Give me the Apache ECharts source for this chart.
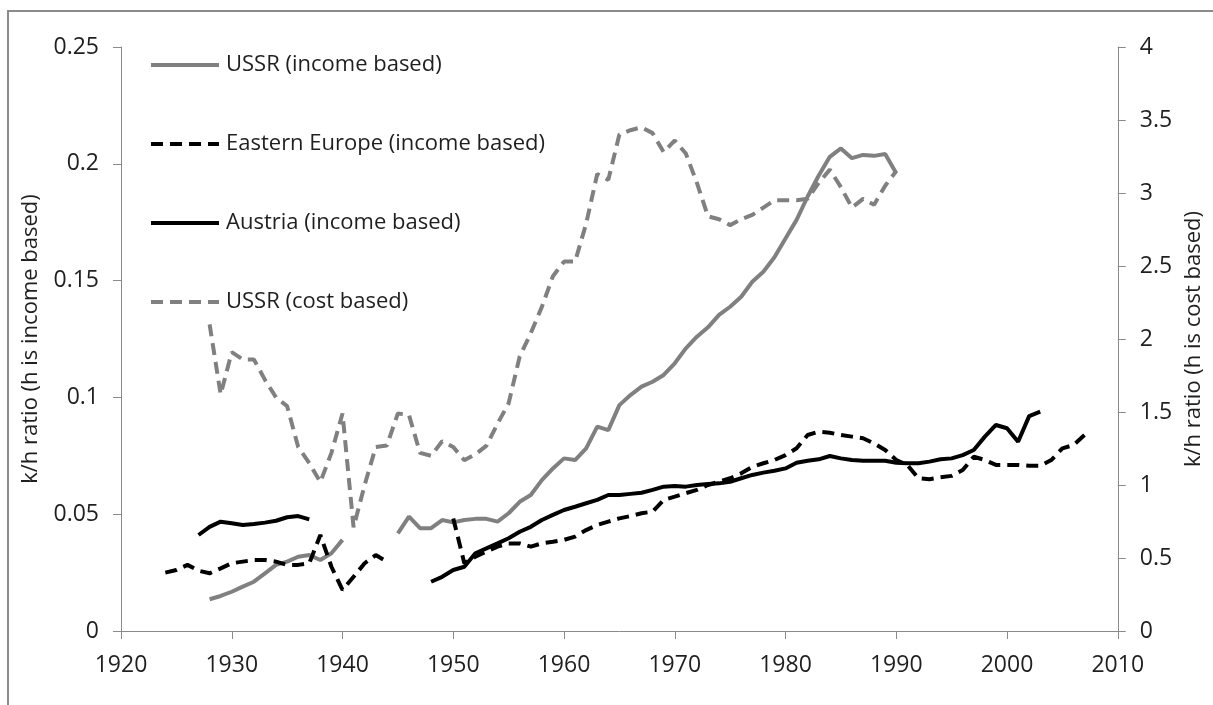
<!DOCTYPE html>
<html>
<head>
<meta charset="utf-8">
<script src="https://cdn.jsdelivr.net/npm/echarts@6/dist/echarts.min.js"></script>
<style>
  html, body { margin: 0; padding: 0; background: #fff; }
  #chart { width: 1213px; height: 705px; }
</style>
</head>
<body>
<div id="chart"></div>
<script>
// k/h ratios
var ussrIncomeYears = [];
for (var y = 1928; y <= 1990; y++) ussrIncomeYears.push(y);
var ussrIncome = [
    0.0136, 0.015, 0.0168, 0.019, 0.0211, 0.0247, 0.0283, 0.0297, 0.0318, 0.0325,
    0.0304, 0.0333, 0.039, null, null, null, null, 0.0418, 0.049, 0.044,
    0.044, 0.0475, 0.0465, 0.0475, 0.048, 0.048, 0.0468, 0.0504, 0.0553, 0.0582,
    0.0646, 0.0696, 0.0739, 0.0732, 0.0782, 0.0875, 0.086, 0.0967, 0.101, 0.1046,
    0.1067, 0.1096, 0.1146, 0.121, 0.126, 0.130, 0.1353, 0.1388, 0.1431, 0.1495,
    0.1538, 0.160, 0.168, 0.176, 0.186, 0.195, 0.203, 0.2066, 0.2024, 0.2038,
    0.2034, 0.2042, 0.196
];

var eastEuropeYears = [];
for (var y = 1924; y <= 2007; y++) eastEuropeYears.push(y);
var eastEurope = [
    0.025, 0.0261, 0.0283, 0.0258, 0.0247, 0.0268, 0.029, 0.0297, 0.0304, 0.0304,
    0.0297, 0.0283, 0.0283, 0.029, 0.0411, 0.0275, 0.0176, 0.0232, 0.029, 0.0325,
    0.0297, null, null, null, null, null, 0.0482, 0.029, 0.0318, 0.034,
    0.0361, 0.0375, 0.0375, 0.0361, 0.0375, 0.0382, 0.039, 0.0404, 0.0432, 0.0454,
    0.0468, 0.0482, 0.0492, 0.0504, 0.0511, 0.0561, 0.0575, 0.059, 0.0604, 0.0625,
    0.0639, 0.0654, 0.0675, 0.0703, 0.0718, 0.0732, 0.0753, 0.0782, 0.0839, 0.0853,
    0.0849, 0.0839, 0.0832, 0.0825, 0.0803, 0.0775, 0.0732, 0.0711, 0.0654, 0.065,
    0.0658, 0.0664, 0.0689, 0.0746, 0.0732, 0.0711, 0.0711, 0.0711, 0.0707, 0.0707,
    0.0732, 0.0782, 0.0796, 0.0839
];

var austriaYears = [];
for (var y = 1927; y <= 2003; y++) austriaYears.push(y);
var austria = [
    0.0411, 0.0446, 0.0468, 0.0461, 0.0454, 0.0458, 0.0464, 0.0472, 0.0487, 0.0492,
    0.0478, null, null, null, null, null, null, null, null, null,
    null, 0.0211, 0.0232, 0.0261, 0.0275, 0.0333, 0.0354, 0.0375, 0.0397, 0.0425,
    0.0446, 0.0475, 0.0497, 0.0518, 0.0532, 0.0547, 0.0561, 0.0582, 0.0582, 0.0587,
    0.0592, 0.0604, 0.0618, 0.0621, 0.0618, 0.0625, 0.0629, 0.0632, 0.0639, 0.0654,
    0.0668, 0.0678, 0.0686, 0.0696, 0.072, 0.0729, 0.0735, 0.0749, 0.0739, 0.0732,
    0.0729, 0.0729, 0.0729, 0.072, 0.0718, 0.0718, 0.0725, 0.0735, 0.0739, 0.0753,
    0.0775, 0.0832, 0.0882, 0.0868, 0.081, 0.092, 0.0939
];

var ussrCostYears = ussrIncomeYears;
var ussrCost = [
    2.1, 1.62, 1.91, 1.86, 1.86, 1.72, 1.60, 1.54, 1.26, 1.15,
    1.02, 1.22, 1.49, 0.71, 1.0, 1.26, 1.27, 1.49, 1.48, 1.22,
    1.20, 1.30, 1.26, 1.17, 1.21, 1.27, 1.42, 1.56, 1.88, 2.04,
    2.22, 2.43, 2.53, 2.53, 2.79, 3.13, 3.09, 3.40, 3.43, 3.45,
    3.41, 3.28, 3.36, 3.27, 3.07, 2.84, 2.82, 2.78, 2.82, 2.85,
    2.90, 2.95, 2.95, 2.95, 2.96, 3.07, 3.16, 3.04, 2.90, 2.96,
    2.92, 3.05, 3.15
];

var xTicks = { min: 1920, max: 2010, interval: 10 };

function pairs(years, vals) {
    return years.map(function (yr, i) {
        return [yr, vals[i] == null ? '-' : vals[i]];
    });
}

var axisColor = '#8a8a8a';
var textColor = '#1f1f1f';
var font = '"Open Sans", sans-serif';

var chart = echarts.init(document.getElementById('chart'));
chart.setOption({
    backgroundColor: '#fff',
    animation: false,
    graphic: [{
        type: 'rect',
        shape: { x: 8, y: 11, width: 1400, height: 900 },
        style: { fill: 'none', stroke: '#8c8c8c', lineWidth: 2 },
        silent: true
    }],
    grid: { left: 121, right: 80, top: 47, bottom: 74 },
    legend: {
        orient: 'vertical',
        left: 149,
        top: 54,
        padding: 0,
        itemWidth: 68,
        itemHeight: 22,
        itemGap: 57,
        itemStyle: { opacity: 0 },
        lineStyle: { width: 4 },
        textStyle: { fontFamily: font, fontSize: 22, color: textColor, lineHeight: 22, padding: [0, 0, 0, 2] },
        data: ['USSR (income based)', 'Eastern Europe (income based)', 'Austria (income based)', 'USSR (cost based)']
    },
    xAxis: {
        type: 'value',
        min: xTicks.min, max: xTicks.max, interval: xTicks.interval,
        axisLine: { show: true, lineStyle: { color: axisColor, width: 1 } },
        axisTick: { show: true, length: 8, lineStyle: { color: axisColor } },
        splitLine: { show: false },
        axisLabel: {
            fontFamily: font, fontSize: 23, color: textColor, margin: 23,
            formatter: function (v) { return String(v); }
        }
    },
    yAxis: [{
        type: 'value',
        min: 0, max: 0.25, interval: 0.05,
        name: 'k/h ratio (h is income based)',
        nameLocation: 'middle',
        nameGap: 79,
        nameTextStyle: { fontFamily: font, fontSize: 22, color: textColor },
        axisLine: { show: true, lineStyle: { color: axisColor, width: 1 } },
        axisTick: { show: true, length: 8, lineStyle: { color: axisColor } },
        splitLine: { show: false },
        axisLabel: { fontFamily: font, fontSize: 23, color: textColor, margin: 22 }
    }, {
        type: 'value',
        position: 'right',
        min: 0, max: 4, interval: 0.5,
        name: 'k/h ratio (h is cost based)',
        nameLocation: 'middle',
        nameGap: 40,
        nameRotate: 90,
        nameTextStyle: { fontFamily: font, fontSize: 22, color: textColor },
        axisLine: { show: true, lineStyle: { color: axisColor, width: 1 } },
        axisTick: { show: true, length: 8, lineStyle: { color: axisColor } },
        splitLine: { show: false },
        axisLabel: { fontFamily: font, fontSize: 23, color: textColor, margin: 22 }
    }],
    series: [{
        name: 'USSR (income based)',
        type: 'line',
        yAxisIndex: 0,
        symbol: 'none',
        lineStyle: { color: '#808080', width: 4 },
        itemStyle: { color: '#808080' },
        data: pairs(ussrIncomeYears, ussrIncome)
    }, {
        name: 'Eastern Europe (income based)',
        type: 'line',
        yAxisIndex: 0,
        symbol: 'none',
        lineStyle: { color: '#000', width: 4, type: [12, 7] },
        itemStyle: { color: '#000' },
        data: pairs(eastEuropeYears, eastEurope)
    }, {
        name: 'Austria (income based)',
        type: 'line',
        yAxisIndex: 0,
        symbol: 'none',
        lineStyle: { color: '#000', width: 4 },
        itemStyle: { color: '#000' },
        data: pairs(austriaYears, austria)
    }, {
        name: 'USSR (cost based)',
        type: 'line',
        yAxisIndex: 1,
        symbol: 'none',
        lineStyle: { color: '#808080', width: 4, type: [12, 7] },
        itemStyle: { color: '#808080' },
        data: pairs(ussrCostYears, ussrCost)
    }]
});
</script>
</body>
</html>
